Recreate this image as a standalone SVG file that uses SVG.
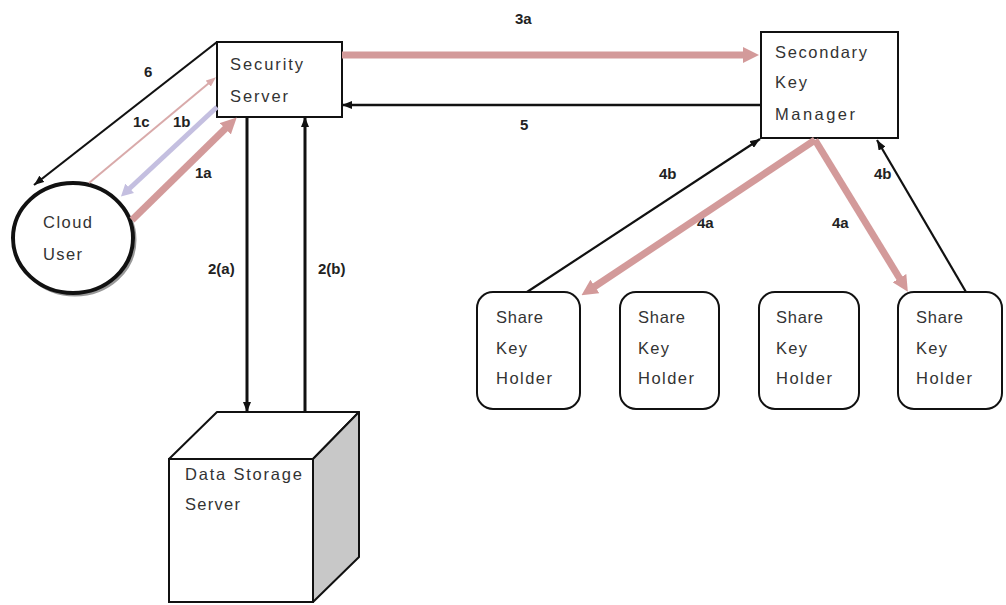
<svg xmlns="http://www.w3.org/2000/svg" width="1006" height="605" viewBox="0 0 1006 605">
  <style>
    .node-text { font-family: "Liberation Sans", Arial, sans-serif; font-size: 16.5px; fill: #333; }
    .label { font-family: "Liberation Sans", Arial, sans-serif; font-size: 15px; font-weight: bold; fill: #222; }
    .box { fill: #fff; stroke: #111; stroke-width: 2; }
    .black { fill: none; stroke: #111; stroke-width: 2.2; }
    .pink { fill: none; stroke: #d39a9a; stroke-width: 7; }
    .lav { fill: none; stroke: #c4bfe0; stroke-width: 5; }
    .thinpink { fill: none; stroke: #d9aaaa; stroke-width: 2; }
  </style>
  <defs>
    <marker id="headBlack" viewBox="0 0 10 8" refX="10" refY="4" markerWidth="10" markerHeight="8" markerUnits="userSpaceOnUse" orient="auto">
      <path d="M0,0 L10,4 L0,8 z" fill="#111"/>
    </marker>
    <marker id="headPink" viewBox="0 0 16 16" refX="1" refY="8" markerWidth="16" markerHeight="16" markerUnits="userSpaceOnUse" orient="auto">
      <path d="M0,0 L16,8 L0,16 z" fill="#d39a9a"/>
    </marker>
    <marker id="headLav" viewBox="0 0 12 13" refX="1" refY="6.5" markerWidth="12" markerHeight="13" markerUnits="userSpaceOnUse" orient="auto">
      <path d="M0,0 L12,6.5 L0,13 z" fill="#c4bfe0"/>
    </marker>
    <marker id="headThinPink" viewBox="0 0 10 8" refX="1" refY="4" markerWidth="10" markerHeight="8" markerUnits="userSpaceOnUse" orient="auto">
      <path d="M0,0 L10,4 L0,8 z" fill="#d9aaaa"/>
    </marker>
  </defs>

  <rect width="1006" height="605" fill="#fff"/>

  <!-- step numbers -->
  <g id="labels">
    <text class="label" x="144" y="77">6</text>
    <text class="label" x="133" y="127">1c</text>
    <text class="label" x="173" y="127">1b</text>
    <text class="label" x="195" y="178">1a</text>
    <text class="label" x="515" y="24">3a</text>
    <text class="label" x="520" y="130">5</text>
    <text class="label" x="208" y="274">2(a)</text>
    <text class="label" x="318" y="274">2(b)</text>
    <text class="label" x="659" y="179">4b</text>
    <text class="label" x="697" y="228">4a</text>
    <text class="label" x="832" y="228">4a</text>
    <text class="label" x="874" y="179">4b</text>
  </g>

  <!-- Security Server -->
  <g id="security-server">
    <rect class="box" x="217" y="42" width="125" height="75"/>
    <text class="node-text" x="230" y="70" textLength="73" lengthAdjust="spacing">Security</text>
    <text class="node-text" x="230" y="102" textLength="58" lengthAdjust="spacing">Server</text>
  </g>

  <!-- Cloud User -->
  <g id="cloud-user">
    <ellipse cx="75" cy="240" rx="60" ry="55" fill="none" stroke="#999" stroke-width="3"/>
    <ellipse cx="73" cy="238" rx="60" ry="55" fill="#fff" stroke="#111" stroke-width="4"/>
    <text class="node-text" x="43" y="228" textLength="49" lengthAdjust="spacing">Cloud</text>
    <text class="node-text" x="43" y="260" textLength="39" lengthAdjust="spacing">User</text>
  </g>

  <!-- Secondary Key Manager -->
  <g id="secondary-key-manager">
    <rect class="box" x="761" y="32" width="137" height="106"/>
    <text class="node-text" x="775" y="58" textLength="92" lengthAdjust="spacing">Secondary</text>
    <text class="node-text" x="775" y="88" textLength="32" lengthAdjust="spacing">Key</text>
    <text class="node-text" x="775" y="120" textLength="80" lengthAdjust="spacing">Manager</text>
  </g>

  <!-- Share Key Holders -->
  <g id="holder-1">
    <rect class="box" x="477" y="292" width="103" height="117" rx="16"/>
    <text class="node-text" x="496" y="323" textLength="47" lengthAdjust="spacing">Share</text>
    <text class="node-text" x="496" y="354" textLength="31" lengthAdjust="spacing">Key</text>
    <text class="node-text" x="496" y="384" textLength="56" lengthAdjust="spacing">Holder</text>
  </g>
  <g id="holder-2">
    <rect class="box" x="620" y="292" width="99" height="117" rx="16"/>
    <text class="node-text" x="638" y="323" textLength="47" lengthAdjust="spacing">Share</text>
    <text class="node-text" x="638" y="354" textLength="31" lengthAdjust="spacing">Key</text>
    <text class="node-text" x="638" y="384" textLength="56" lengthAdjust="spacing">Holder</text>
  </g>
  <g id="holder-3">
    <rect class="box" x="759" y="292" width="100" height="117" rx="16"/>
    <text class="node-text" x="776" y="323" textLength="47" lengthAdjust="spacing">Share</text>
    <text class="node-text" x="776" y="354" textLength="31" lengthAdjust="spacing">Key</text>
    <text class="node-text" x="776" y="384" textLength="56" lengthAdjust="spacing">Holder</text>
  </g>
  <g id="holder-4">
    <rect class="box" x="898" y="292" width="104" height="117" rx="16"/>
    <text class="node-text" x="916" y="323" textLength="47" lengthAdjust="spacing">Share</text>
    <text class="node-text" x="916" y="354" textLength="31" lengthAdjust="spacing">Key</text>
    <text class="node-text" x="916" y="384" textLength="56" lengthAdjust="spacing">Holder</text>
  </g>

  <!-- Data Storage Server (cube) -->
  <g id="data-storage-server">
    <polygon points="169,459 217,412 359,412 313,459" fill="#fff" stroke="#111" stroke-width="2" stroke-linejoin="round"/>
    <polygon points="313,459 359,412 359,557 313,602" fill="#c8c8c8" stroke="#111" stroke-width="2" stroke-linejoin="round"/>
    <rect class="box" x="169" y="459" width="144" height="143"/>
    <text class="node-text" x="185" y="480" textLength="117" lengthAdjust="spacing">Data Storage</text>
    <text class="node-text" x="185" y="510" textLength="55" lengthAdjust="spacing">Server</text>
  </g>

  <!-- connectors -->
  <g id="connectors">
    <!-- 6 -->
    <line class="black" x1="217" y1="42" x2="34" y2="185" marker-end="url(#headBlack)"/>
    <!-- 1c -->
    <line class="thinpink" x1="89" y1="183" x2="209" y2="83" marker-end="url(#headThinPink)"/>
    <!-- 1b -->
    <line class="lav" x1="217" y1="107" x2="129" y2="189" marker-end="url(#headLav)"/>
    <!-- 1a -->
    <line class="pink" x1="132" y1="220" x2="226" y2="128" marker-end="url(#headPink)"/>
    <!-- 2(a) / 2(b) -->
    <line class="black" style="stroke-width:3" x1="247" y1="117" x2="247" y2="412" marker-end="url(#headBlack)"/>
    <line class="black" style="stroke-width:3" x1="305" y1="412" x2="305" y2="117" marker-end="url(#headBlack)"/>
    <!-- 3a -->
    <line class="pink" x1="342" y1="55" x2="744" y2="55" marker-end="url(#headPink)"/>
    <!-- 5 -->
    <line class="black" style="stroke-width:2.5" x1="761" y1="105" x2="342" y2="105" marker-end="url(#headBlack)"/>
    <!-- 4b left -->
    <line class="black" x1="527" y1="292" x2="760" y2="139" marker-end="url(#headBlack)"/>
    <!-- 4a left -->
    <line class="pink" x1="815" y1="140" x2="594" y2="287" marker-end="url(#headPink)"/>
    <!-- 4a right -->
    <line class="pink" x1="815" y1="140" x2="900" y2="279" marker-end="url(#headPink)"/>
    <!-- 4b right -->
    <line class="black" x1="966" y1="292" x2="877" y2="140" marker-end="url(#headBlack)"/>
  </g>
</svg>
